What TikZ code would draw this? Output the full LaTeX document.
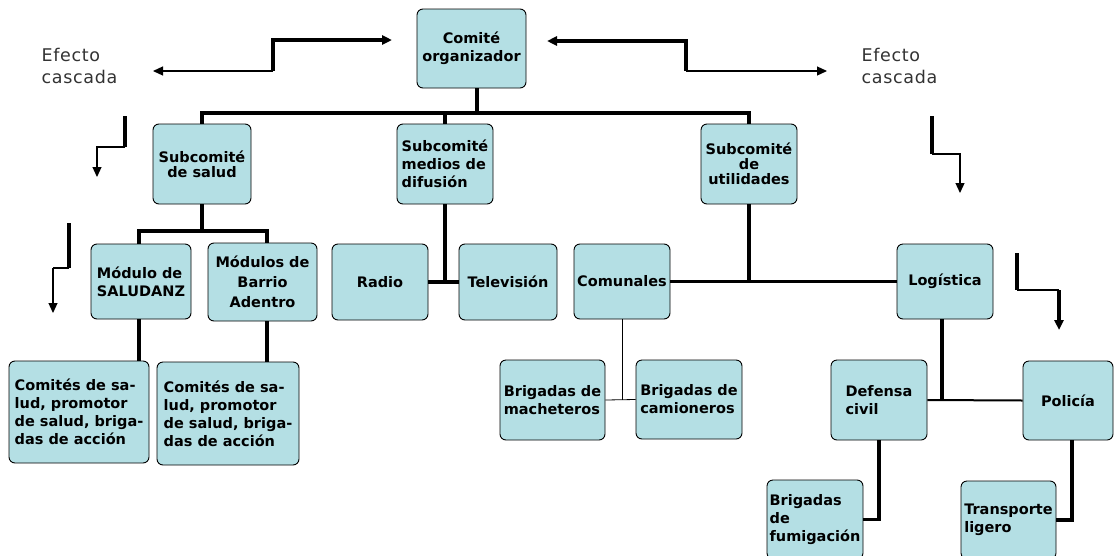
\documentclass[tikz,border=0pt]{standalone}
\usepackage{fontspec}
\setmainfont{DejaVu Sans}
\usepackage{tikz}
\usetikzlibrary{arrows.meta}
\definecolor{celeste}{RGB}{180,223,228}
\definecolor{grisoscuro}{RGB}{51,51,51}

\begin{document}
\begin{tikzpicture}[x=1pt,y=-1pt]
\tikzstyle{caja}=[draw=black,line width=0.9pt,fill=celeste,rounded corners=6pt,inner sep=2pt,font=\bfseries\fontsize{14.5}{18}\selectfont]
\tikzstyle{efecto}=[text=grisoscuro,font=\fontsize{17.5}{22}\selectfont\addfontfeature{LetterSpace=4},align=left,anchor=west]
\tikzstyle{grueso}=[line width=3.5pt]
\tikzstyle{medio}=[line width=2pt]
\tikzstyle{fino}=[line width=1.2pt]
\tikzstyle{punta}=[-{Triangle[length=10pt,width=9pt]}]
\useasboundingbox (0,0) rectangle (1114,555);

% comite y subcomites
\node[caja,minimum width=109pt,minimum height=79pt,align=center] (org) at (471.5,48.5) {Comité\\organizador};
\node[caja,minimum width=98pt,minimum height=80pt,align=center,font=\bfseries\fontsize{14.5}{15}\selectfont] (salud) at (202,164) {Subcomité\\de salud};
\node[caja,minimum width=96pt,minimum height=80pt,align=left] (medios) at (445,164) {Subcomité\\medios de\\difusión};
\node[caja,minimum width=96pt,minimum height=80pt,align=center,font=\bfseries\fontsize{14.5}{15}\selectfont] (util) at (749,164) {Subcomité\\de\\utilidades};

% segundo nivel
\node[caja,minimum width=100pt,minimum height=75pt,align=left] (saludanz) at (141,281.5) {Módulo de\\SALUDANZ};
\node[caja,minimum width=109pt,minimum height=78pt,align=center,font=\bfseries\fontsize{14.5}{20}\selectfont] (barrio) at (262.5,282) {Módulos de\\Barrio\\Adentro};
\node[caja,minimum width=96pt,minimum height=76pt] (radio) at (380,282) {Radio};
\node[caja,minimum width=98pt,minimum height=76pt] (tv) at (508,282) {Televisión};
\node[caja,minimum width=96pt,minimum height=75pt] (comunales) at (622,281.5) {Comunales};
\node[caja,minimum width=96pt,minimum height=75pt] (logistica) at (945,281.5) {Logística};

% tercer nivel
\node[caja,minimum width=140pt,minimum height=102pt,align=left] (comitesA) at (79,412) {Comités de sa-\\lud, promotor\\de salud, briga-\\das de acción};
\node[caja,minimum width=142pt,minimum height=103pt,align=left] (comitesB) at (228,413.5) {Comités de sa-\\lud, promotor\\de salud, briga-\\das de acción};
\node[caja,minimum width=105pt,minimum height=80pt,align=left] (machete) at (552.5,400) {Brigadas de\\macheteros};
\node[caja,minimum width=106pt,minimum height=79pt,align=left] (camion) at (689,399.5) {Brigadas de\\camioneros};
\node[caja,minimum width=96pt,minimum height=80pt,align=left] (defensa) at (879,400) {Defensa\\civil};
\node[caja,minimum width=90pt,minimum height=79pt] (policia) at (1068,400.5) {Policía};
\node[caja,minimum width=96pt,minimum height=79pt,align=left] (fumiga) at (815,519.5) {Brigadas\\de\\fumigación};
\node[caja,minimum width=95pt,minimum height=78pt,align=left] (transp) at (1008.5,520) {Transporte\\ligero};

% efecto cascada
\node[efecto] (efizq) at (38,66) {Efecto\\cascada};
\node[efecto] (efder) at (858,66) {Efecto\\cascada};

% lineas del organigrama
\coordinate (barra) at (477,113);
\coordinate (barra2) at (202,231);
\draw[grueso] ([xshift=5.5pt]org.south) -- (barra);
\draw[grueso] (salud.north) |- (barra) -| (util.north);
\draw[grueso] (medios.north) -- (medios.north |- barra);
\draw[grueso] (salud.south) -- (barra2);
\draw[grueso] ([xshift=-2pt]saludanz.north) |- (barra2) -| ([xshift=4.5pt]barrio.north);
\draw[grueso] ([xshift=-2pt]saludanz.south) -- ([xshift=-2pt]saludanz.south |- comitesA.north);
\draw[grueso] ([xshift=4.5pt]barrio.south) -- ([xshift=4.5pt]barrio.south |- comitesB.north);
\draw[grueso] (radio.east) -- (tv.west);
\draw[grueso] (medios.south) -- (medios.south |- radio.east);
\draw[grueso] (comunales.east) -- (logistica.west);
\draw[grueso] (util.south) -- (util.south |- comunales.east);
\draw[line width=0.8pt] (machete.east) -- (camion.west);
\draw[line width=0.8pt] (comunales.south) -- (comunales.south |- machete.east);
\draw[medio] (defensa.east) -- (policia.west);
\draw[grueso] ([xshift=-3pt]logistica.south) -- ([xshift=-3pt]logistica.south |- defensa.east);
\draw[grueso] (defensa.south) |- (fumiga.east);
\draw[grueso] ([xshift=4pt]policia.south) |- (transp.east);

% flechas de efecto cascada
\coordinate (a1) at (392,40);
\coordinate (a2) at (273,40);
\coordinate (a3) at (273,71);
\coordinate (a4) at (153,71);
\draw[grueso,punta] (a3) -- (a2) -- (a1);
\draw[fino,punta] (a3) -- (a4);
\coordinate (b1) at (547,41);
\coordinate (b2) at (686,41);
\coordinate (b3) at (686,71);
\coordinate (b4) at (827,71);
\draw[grueso,punta] (b3) -- (b2) -- (b1);
\draw[fino,punta] (b3) -- (b4);
\coordinate (c1) at (125,116);
\coordinate (c2) at (125,147);
\coordinate (c3) at (97,147);
\coordinate (c4) at (97,177);
\draw[grueso] (c1) -- (c2);
\draw[fino,punta] (c2) -- (c3) -- (c4);
\coordinate (d1) at (69,223);
\coordinate (d2) at (69,268);
\coordinate (d3) at (53,268);
\coordinate (d4) at (53,313);
\draw[grueso] (d1) -- (d2);
\draw[medio] (d2) -- (d3);
\draw[fino,punta] (d3) -- (d4);
\coordinate (e1) at (932,116);
\coordinate (e2) at (932,154);
\coordinate (e3) at (960,154);
\coordinate (e4) at (960,193);
\draw[grueso] (e1) -- (e2);
\draw[fino,punta] (e2) -- (e3) -- (e4);
\coordinate (f1) at (1017,253);
\coordinate (f2) at (1017,290);
\coordinate (f3) at (1059,290);
\coordinate (f4) at (1059,330);
\draw[grueso] (f1) -- (f2);
\draw[medio] (f2) -- (f3);
\draw[grueso,punta] (f3) -- (f4);
\end{tikzpicture}
\end{document}
